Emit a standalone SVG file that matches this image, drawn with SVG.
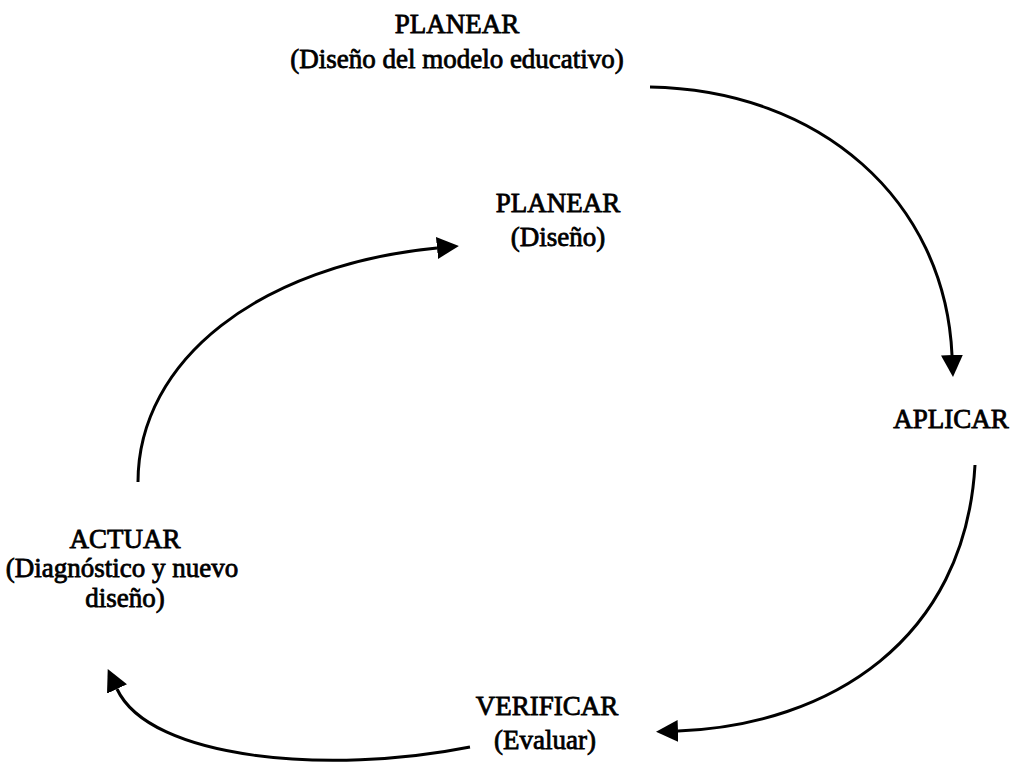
<svg xmlns="http://www.w3.org/2000/svg" width="1012" height="773" viewBox="0 0 1012 773">
<style>
text{font-family:"Liberation Serif","Times New Roman",serif;font-size:27px;fill:#000;text-anchor:middle;stroke:#000;stroke-width:0.8px}
.c{fill:none;stroke:#000;stroke-width:3}
</style>
<defs>
<marker id="ah" markerUnits="userSpaceOnUse" markerWidth="22" markerHeight="22" refX="0" refY="10.5" orient="auto" viewBox="0 0 21 21">
<path d="M0,0 L21,10.5 L0,21 z" fill="#000"/>
</marker>
</defs>
<rect width="1012" height="773" fill="#fff"/>
<g id="connectors">
<path class="c" d="M650,87 C820,90 945,200 952,355" marker-end="url(#ah)"/>
<path class="c" d="M975,465 C965,640 830,725 678,731" marker-end="url(#ah)"/>
<path class="c" d="M470,747 C330,775 150,760 117,689" marker-end="url(#ah)"/>
<path class="c" d="M138,482 C138,360 260,265 437,248" marker-end="url(#ah)"/>
</g>
<g id="planear-modelo">
<text x="457" y="33">PLANEAR</text>
<text x="457" y="68">(Diseño del modelo educativo)</text>
</g>
<g id="planear-diseno">
<text x="558" y="212">PLANEAR</text>
<text x="558" y="246">(Diseño)</text>
</g>
<g id="aplicar">
<text x="951" y="428">APLICAR</text>
</g>
<g id="verificar">
<text x="547" y="715">VERIFICAR</text>
<text x="545" y="749">(Evaluar)</text>
</g>
<g id="actuar">
<text x="125" y="548">ACTUAR</text>
<text x="122" y="577">(Diagnóstico y nuevo</text>
<text x="125" y="607">diseño)</text>
</g>
</svg>
